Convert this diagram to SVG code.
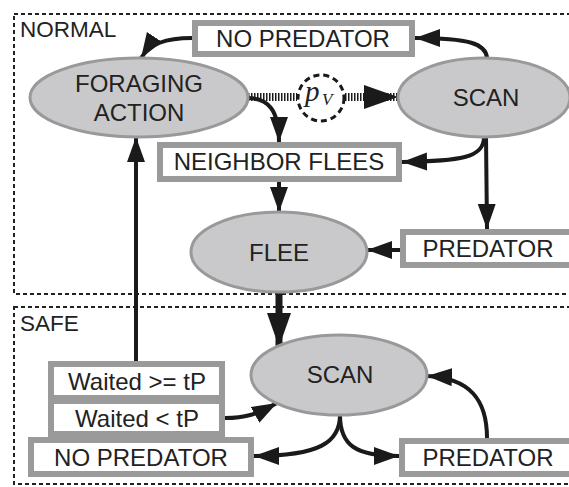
<svg xmlns="http://www.w3.org/2000/svg" width="569" height="487" viewBox="0 0 569 487">
<style>
.txt{font-family:"Liberation Sans",Arial,sans-serif;font-size:24px;fill:#222;text-anchor:middle}
.lbl{font-family:"Liberation Sans",Arial,sans-serif;font-size:22.5px;fill:#222}
.box{fill:#fff;stroke:#9a9a9a;stroke-width:6}
.ell{fill:#c9c9cb;stroke:#999;stroke-width:3}
.zone{fill:none;stroke:#222;stroke-width:2;stroke-dasharray:4 3}
.con{fill:none;stroke:#1a1a1a;stroke-width:4}
</style>
<defs>
<marker id="ah" markerUnits="userSpaceOnUse" markerWidth="28" markerHeight="20" refX="25" refY="9" orient="auto">
<path d="M0,0 L25,9 L0,18 z" fill="#1a1a1a"/>
</marker>
<marker id="big" markerUnits="userSpaceOnUse" markerWidth="36" markerHeight="26" refX="34" refY="12" orient="auto">
<path d="M0,0 L34,12 L0,24 z" fill="#1a1a1a"/>
</marker>
</defs>
<rect width="569" height="487" fill="#fff"/>
<g id="zone-normal">
<rect class="zone" x="14" y="14" width="570" height="280"/>
<text class="lbl" x="20" y="37">NORMAL</text>
</g>
<g id="zone-safe">
<rect class="zone" x="14" y="307" width="570" height="177"/>
<text class="lbl" x="20" y="331">SAFE</text>
</g>
<g id="connectors">
<path class="con" d="M192,38 C165,38 150,44 141,58" marker-end="url(#ah)"/>
<path class="con" d="M487,58 C486,44 470,38 415,38" marker-end="url(#ah)"/>
<path d="M248,97 L297,97" fill="none" stroke="#1a1a1a" stroke-width="8" stroke-dasharray="1.5 1.5"/>
<path d="M345,97 L398,97" fill="none" stroke="#1a1a1a" stroke-width="8" stroke-dasharray="1.5 1.5" marker-end="url(#big)"/>
<path class="con" d="M248,98 C268,98 279,110 279,142" marker-end="url(#ah)"/>
<path class="con" d="M484,137 C484,158 460,161 402,162" marker-end="url(#ah)"/>
<path class="con" d="M486,137 L487,229" marker-end="url(#ah)"/>
<path class="con" d="M400,250 L367,250" marker-end="url(#ah)"/>
<path class="con" d="M279,182 L279,212" marker-end="url(#ah)"/>
<path d="M279,292 L279,347" fill="none" stroke="#1a1a1a" stroke-width="7" marker-end="url(#big)"/>
<path class="con" d="M136,361 L136,137" marker-end="url(#ah)"/>
<path class="con" d="M225,418 C245,418 255,415 277,403" marker-end="url(#ah)"/>
<path class="con" d="M340,415 C340,442 320,456 254,456" marker-end="url(#ah)"/>
<path class="con" d="M340,415 C340,445 355,456 399,456" marker-end="url(#ah)"/>
<path class="con" d="M487,438 C487,400 470,378 427,376" marker-end="url(#ah)"/>
</g>
<g id="no-predator-normal">
<rect class="box" x="195" y="23" width="217" height="31"/>
<text class="txt" x="303" y="47">NO PREDATOR</text>
</g>
<g id="foraging-action">
<ellipse class="ell" cx="139" cy="97.5" rx="109" ry="39.5"/>
<text class="txt" x="139" y="92">FORAGING</text>
<text class="txt" x="139" y="121">ACTION</text>
</g>
<g id="pv">
<circle cx="321" cy="98" r="23" fill="#fff" stroke="#1a1a1a" stroke-width="3" stroke-dasharray="6 4"/>
<text x="305" y="101" font-family="Liberation Serif,serif" font-style="italic" font-size="29" fill="#222">p</text>
<text x="322" y="105" font-family="Liberation Serif,serif" font-style="italic" font-size="17" fill="#222">V</text>
</g>
<g id="scan-normal">
<ellipse class="ell" cx="484" cy="97.5" rx="86" ry="39.5"/>
<text class="txt" x="486" y="106">SCAN</text>
</g>
<g id="neighbor-flees">
<rect class="box" x="160" y="145" width="239" height="34"/>
<text class="txt" x="279" y="170">NEIGHBOR FLEES</text>
</g>
<g id="flee">
<ellipse class="ell" cx="279" cy="252" rx="88" ry="40"/>
<text class="txt" x="279" y="261">FLEE</text>
</g>
<g id="predator-normal">
<rect class="box" x="403" y="232" width="175" height="33"/>
<text class="txt" x="488" y="257">PREDATOR</text>
</g>
<g id="scan-safe">
<ellipse class="ell" cx="339" cy="375" rx="88" ry="40"/>
<text class="txt" x="340" y="383">SCAN</text>
</g>
<g id="waited-ge">
<rect class="box" x="51" y="364" width="171" height="34"/>
<text class="txt" x="137" y="390">Waited &gt;= tP</text>
</g>
<g id="waited-lt">
<rect class="box" x="51" y="401" width="171" height="33"/>
<text class="txt" x="137" y="427">Waited &lt; tP</text>
</g>
<g id="no-predator-safe">
<rect class="box" x="31" y="440" width="220" height="34"/>
<text class="txt" x="141" y="466">NO PREDATOR</text>
</g>
<g id="predator-safe">
<rect class="box" x="402" y="441" width="175" height="33"/>
<text class="txt" x="488" y="466">PREDATOR</text>
</g>
</svg>
